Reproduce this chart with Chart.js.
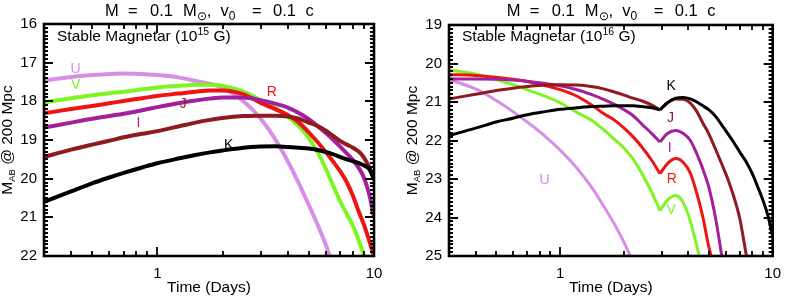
<!DOCTYPE html>
<html><head><meta charset="utf-8">
<script src="https://cdn.jsdelivr.net/npm/chart.js@4.4.0/dist/chart.umd.min.js"></script>
<style>
html,body{margin:0;padding:0;background:#fff;}
#wrap{position:relative;width:790px;height:297px;overflow:hidden;}
.c{position:absolute;top:0;width:395px;height:297px;}
canvas{display:block;}
</style></head><body>
<div id="wrap">
<div class="c" style="left:0"><canvas id="cL" width="395" height="297"></canvas></div>
<div class="c" style="left:395px"><canvas id="cR" width="395" height="297"></canvas></div>
</div>
<script>
// ---------- DATA ----------
const BANDS = ['U','V','R','I','J','K'];
const X_TICKS = [1, 10];

// Left panel: stable magnetar 10^15 G
const T_15 = [0.3,0.4,0.5,0.6,0.7,0.85,1,1.25,1.5,1.75,2,2.5,3,3.5,4,4.5,5,5.5,6,6.5,7,7.5,8,8.5,9,9.5,10];
const U_15 = [17.46,17.37,17.32,17.29,17.28,17.29,17.32,17.38,17.47,17.55,17.64,18.0,18.45,18.98,19.55,20.12,20.68,21.2,21.72,22.3,null,null,null,null,null,null,null];
const V_15 = [18.03,17.92,17.84,17.79,17.75,17.69,17.64,17.6,17.57,17.57,17.6,17.75,17.97,18.17,18.4,18.65,18.95,19.32,19.75,20.2,20.6,20.92,21.22,21.6,22.0,22.4,null];
const R_15 = [18.31,18.2,18.12,18.05,17.99,17.92,17.86,17.8,17.75,17.72,17.72,17.82,18.04,18.2,18.35,18.55,18.8,19.06,19.32,19.57,19.82,20.1,20.45,20.85,21.2,21.6,22.0];
const I_15 = [18.68,18.55,18.45,18.38,18.32,18.23,18.15,18.05,17.98,17.93,17.9,17.9,17.97,18.06,18.16,18.3,18.46,18.64,18.82,19.0,19.18,19.35,19.52,19.72,19.98,20.4,21.0];
const J_15 = [19.44,19.25,19.12,19.02,18.93,18.84,18.77,18.65,18.55,18.48,18.43,18.38,18.37,18.37,18.39,18.45,18.55,18.64,18.76,18.9,19.03,19.12,19.2,19.3,19.46,19.7,20.04];
const K_15 = [20.6,20.33,20.12,19.97,19.85,19.71,19.6,19.48,19.39,19.32,19.27,19.2,19.17,19.16,19.18,19.2,19.22,19.26,19.31,19.37,19.44,19.5,19.55,19.6,19.66,19.75,20.0];
const Y_TICKS_15 = [16,17,18,19,20,21,22];

// Right panel: stable magnetar 10^16 G
const T_16 = [0.3,0.4,0.5,0.6,0.7,0.85,1,1.2,1.4,1.6,1.8,2,2.2,2.45,2.7,2.95,3.2,3.5,3.8,4.1,4.4,4.7,5,5.4,5.8,6.2,6.6,7,7.5,8,8.5,9,9.5,10];
const U_16 = [20.42,20.66,20.96,21.25,21.52,21.89,22.25,22.72,23.2,23.7,24.17,24.65,25.15,null,null,null,null,null,null,null,null,null,null,null,null,null,null,null,null,null,null,null,null,null];
const V_16 = [20.17,20.27,20.42,20.55,20.68,20.85,21.02,21.27,21.47,21.72,21.97,22.2,22.48,22.9,23.35,23.82,23.55,23.43,23.62,24.1,24.75,25.4,null,null,null,null,null,null,null,null,null,null,null,null];
const R_16 = [20.29,20.31,20.36,20.41,20.47,20.57,20.68,20.85,21.07,21.3,21.47,21.68,21.9,22.2,22.52,22.86,22.6,22.47,22.57,22.85,23.38,24.0,24.75,25.4,null,null,null,null,null,null,null,null,null,null];
const I_16 = [20.4,20.4,20.41,20.43,20.46,20.52,20.58,20.68,20.8,20.93,21.06,21.2,21.35,21.6,21.82,22.04,21.82,21.74,21.82,22.0,22.35,22.75,23.2,24.05,25.1,null,null,null,null,null,null,null,null,null];
const J_16 = [20.92,20.8,20.7,20.64,20.6,20.56,20.55,20.56,20.6,20.66,20.74,20.82,20.9,20.98,21.08,21.21,21.02,20.92,20.93,21.03,21.25,21.55,21.82,22.24,22.65,23.05,23.5,24.02,24.95,25.8,null,null,null,null];
const K_16 = [21.87,21.68,21.52,21.42,21.33,21.25,21.19,21.15,21.12,21.11,21.1,21.1,21.1,21.12,21.15,21.2,21.02,20.9,20.88,20.92,21.0,21.1,21.2,21.38,21.62,21.85,22.07,22.3,22.55,22.85,23.2,23.55,23.95,24.5];
const Y_TICKS_16 = [19,20,21,22,23,24,25];
const DIP_16 = 2.95;

// ---------- STYLE ----------
const FONT = '"Liberation Sans", Arial, Helvetica, sans-serif';
const COLORS = {U:'#d88ee8', V:'#7cf520', R:'#ee1414', I:'#a31f9c', J:'#8f1a1f', K:'#000000'};

// band label anchors (data units) for each panel
const LABELS_15 = {U:[0.42,17.18], V:[0.42,17.59], R:[3.38,17.76], J:[1.318,18.06], I:[0.818,18.56], K:[2.135,19.13]};
const LABELS_16 = {K:[3.33,20.6], J:[3.31,21.41], I:[3.28,22.19], R:[3.35,23.01], V:[3.33,23.82], U:[0.845,23.04]};

function rich(ctx, parts, x, y, align) {
  let w = 0;
  parts.forEach(p => { ctx.font = p[1] + 'px ' + FONT; w += ctx.measureText(p[0]).width; });
  let cx = align === 'center' ? x - w / 2 : x;
  parts.forEach(p => {
    ctx.font = p[1] + 'px ' + FONT;
    ctx.fillText(p[0], cx, y + (p[2] || 0));
    cx += ctx.measureText(p[0]).width;
  });
}

const framePlugin = {
  id: 'frame',
  afterDatasetsDraw(chart, args, opts) {
    const {ctx, chartArea: a, scales: {x, y}} = chart;
    ctx.save();
    ctx.strokeStyle = '#000';
    ctx.lineWidth = 1.8;
    ctx.beginPath();
    for (let k = -1; k <= 1; k++) for (let m = 1; m <= 9; m++) {
      const v = m * Math.pow(10, k);
      if (v < x.min - 1e-9 || v > x.max + 1e-9) continue;
      const px = Math.round(x.getPixelForValue(v));
      const len = m === 1 ? 9 : 5;
      ctx.moveTo(px, a.bottom); ctx.lineTo(px, a.bottom - len);
      ctx.moveTo(px, a.top); ctx.lineTo(px, a.top + len);
    }
    const n = Math.round((y.max - y.min) * 10);
    for (let i = 0; i <= n; i++) {
      const v = y.min + i / 10;
      const py = Math.round(y.getPixelForValue(v));
      const len = i % 10 === 0 ? 9 : 4;
      ctx.moveTo(a.left, py); ctx.lineTo(a.left + len, py);
      ctx.moveTo(a.right, py); ctx.lineTo(a.right - len, py);
    }
    ctx.stroke();
    ctx.lineWidth = 2.6;
    ctx.strokeRect(a.left, a.top, a.right - a.left, a.bottom - a.top);

    // texts
    ctx.fillStyle = '#000';
    ctx.textBaseline = 'alphabetic';
    ctx.textAlign = 'left';
    const cxm = (a.left + a.right) / 2;
    // title
    const tp = [['M', -104], ['=', -81], ['0.1', -59], ['=', 43], ['0.1', 64], ['c', 96.5]];
    ctx.font = '16.5px ' + FONT;
    tp.forEach(p => ctx.fillText(p[0], cxm + p[1], 16));
    rich(ctx, [['M', 16.5], ['\u2299', 12, 4], [',', 16.5]], cxm - 26, 16, 'left');
    rich(ctx, [['v', 16.5], ['0', 12, 4]], cxm + 11.5, 16, 'left');
    // inner caption
    rich(ctx, [['Stable Magnetar (10', 15.5], [opts.exp, 10.5, -6], [' G)', 15.5]], a.left + 13, 41, 'left');
    // x label
    ctx.font = '15.5px ' + FONT;
    ctx.textAlign = 'center';
    ctx.fillText('Time (Days)', cxm, 292);
    ctx.textAlign = 'left';
    // y label
    ctx.save();
    ctx.translate(a.left - 32, (a.top + a.bottom) / 2);
    ctx.rotate(-Math.PI / 2);
    rich(ctx, [['M', 15.5], ['AB', 9.5, 3], [' @ 200 Mpc', 15.5]], 0, 0, 'center');
    ctx.restore();
    // band labels
    ctx.font = '14px ' + FONT;
    ctx.textAlign = 'center';
    ctx.textBaseline = 'middle';
    Object.keys(opts.labels).forEach(b => {
      const [t, m] = opts.labels[b];
      ctx.fillStyle = COLORS[b];
      ctx.fillText(b, x.getPixelForValue(t), y.getPixelForValue(m));
    });
    ctx.restore();
  }
};

function pts(times, vals, from, to) {
  const out = [];
  for (let i = from; i <= to; i++) if (vals[i] !== null) out.push({x: times[i], y: vals[i]});
  return out;
}

function makeChart(id, cfg) {
  const datasets = [];
  cfg.series.forEach((vals, i) => {
    const band = BANDS[i];
    const segs = cfg.split != null ? [[0, cfg.split], [cfg.split, cfg.times.length - 1]] : [[0, cfg.times.length - 1]];
    segs.forEach(s => {
      datasets.push({
        label: band,
        data: pts(cfg.times, vals, s[0], s[1]),
        borderColor: COLORS[band],
        backgroundColor: COLORS[band],
        borderWidth: cfg.lw,
        pointRadius: 0,
        fill: false,
        cubicInterpolationMode: 'monotone',
        order: 10 - i
      });
    });
  });
  return new Chart(document.getElementById(id), {
    type: 'line',
    data: {datasets},
    options: {
      responsive: false, animation: false, events: [],
      layout: {padding: {left: 0, right: cfg.padR, top: cfg.top, bottom: 0}},
      plugins: {legend: {display: false}, tooltip: {enabled: false}, title: {display: false},
        frame: {exp: cfg.exp, labels: cfg.labels}},
      scales: {
        x: {type: 'logarithmic', min: 0.3, max: 10,
          grid: {display: false, drawTicks: false}, border: {display: false},
          ticks: {font: {family: FONT, size: 15}, color: '#000', padding: 9, maxRotation: 0, autoSkip: false,
            callback: v => String(v)},
          afterBuildTicks: s => { s.ticks = X_TICKS.map(v => ({value: v})); },
          afterFit: s => { s.height = 41; }},
        y: {type: 'linear', reverse: true, min: cfg.ymin, max: cfg.ymax,
          grid: {display: false, drawTicks: false}, border: {display: false},
          ticks: {font: {family: FONT, size: 15}, color: '#000', padding: 7, autoSkip: false,
            callback: v => String(v)},
          afterBuildTicks: s => { s.ticks = cfg.yticks.map(v => ({value: v})); },
          afterFit: s => { s.width = cfg.yw; }}
      }
    },
    plugins: [framePlugin]
  });
}

makeChart('cL', {times: T_15, series: [U_15, V_15, R_15, I_15, J_15, K_15], split: null,
  ymin: 16, ymax: 22, yticks: Y_TICKS_15, yw: 44, padR: 21, top: 24, lw: 4, exp: '15', labels: LABELS_15});
makeChart('cR', {times: T_16, series: [U_16, V_16, R_16, I_16, J_16, K_16], split: T_16.indexOf(DIP_16),
  ymin: 19, ymax: 25, yticks: Y_TICKS_16, yw: 54, padR: 9, top: 25, lw: 3, exp: '16', labels: LABELS_16});
</script>
</body></html>
